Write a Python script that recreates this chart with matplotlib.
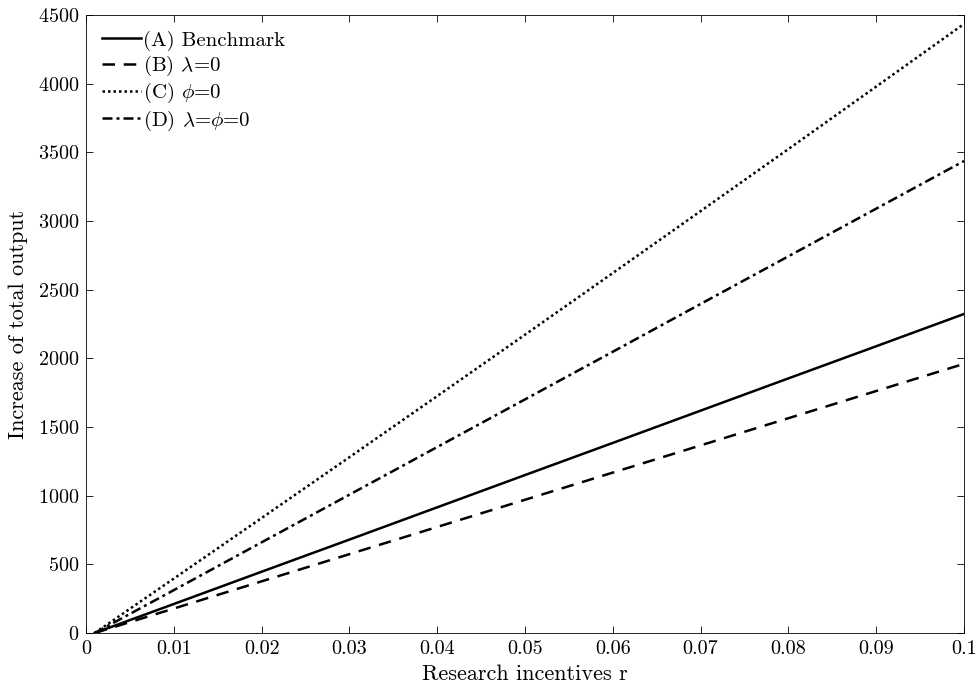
import matplotlib

matplotlib.use("Agg")
import matplotlib.pyplot as plt

plt.rcParams["font.family"] = "serif"
plt.rcParams["font.serif"] = ["cmr10", "DejaVu Serif"]
plt.rcParams["mathtext.fontset"] = "cm"
plt.rcParams["axes.formatter.use_mathtext"] = True

r = [0.001, 0.01, 0.02, 0.03, 0.04, 0.05, 0.06, 0.07, 0.08, 0.09, 0.1]
benchmark = [0, 211, 446, 680, 915, 1150, 1384, 1619, 1854, 2088, 2323]
no_lambda = [0, 178, 376, 574, 772, 970, 1168, 1366, 1564, 1762, 1960]
no_phi = [0, 396, 837, 1280, 1725, 2172, 2621, 3072, 3524, 3979, 4435]
no_both = [0, 312, 660, 1007, 1354, 1701, 2048, 2396, 2743, 3090, 3437]

x_ticks = [0, 0.01, 0.02, 0.03, 0.04, 0.05, 0.06, 0.07, 0.08, 0.09, 0.1]
x_labels = ["0", "0.01", "0.02", "0.03", "0.04", "0.05", "0.06", "0.07", "0.08", "0.09", "0.1"]
y_ticks = list(range(0, 4501, 500))

fig = plt.figure(figsize=(9.77, 6.89), dpi=100)
ax = fig.add_axes([0.088, 0.0813, 0.8987, 0.8969])

ax.plot(r, benchmark, "-", color="black", linewidth=1.8, label="(A) Benchmark")
ax.plot(r, no_lambda, "--", color="black", linewidth=1.8, dashes=(5, 3.5), label=r"(B) $\lambda$=0")
ax.plot(r, no_phi, ":", color="black", linewidth=1.8, dashes=(1, 1.2), label=r"(C) $\phi$=0")
ax.plot(r, no_both, "-.", color="black", linewidth=1.8, dashes=(4, 1.6, 1.2, 1.6), label=r"(D) $\lambda$=$\phi$=0")

ax.set_xlim(0, 0.1)
ax.set_ylim(0, 4500)
ax.set_xticks(x_ticks)
ax.set_xticklabels(x_labels)
ax.set_yticks(y_ticks)
ax.tick_params(direction="in", top=True, right=True, labelsize=14.5, length=5, width=0.6, pad=5)
for spine in ax.spines.values():
    spine.set_linewidth(0.6)

ax.set_xlabel("Research incentives r", fontsize=16, labelpad=5)
ax.set_ylabel("Increase of total output", fontsize=16, labelpad=7)

ax.legend(loc="upper left", frameon=False, fontsize=15, handlelength=1.9,
          handletextpad=0.1, labelspacing=0.15, borderaxespad=0.45, borderpad=0.3)

fig.savefig("out.png", dpi=100)
